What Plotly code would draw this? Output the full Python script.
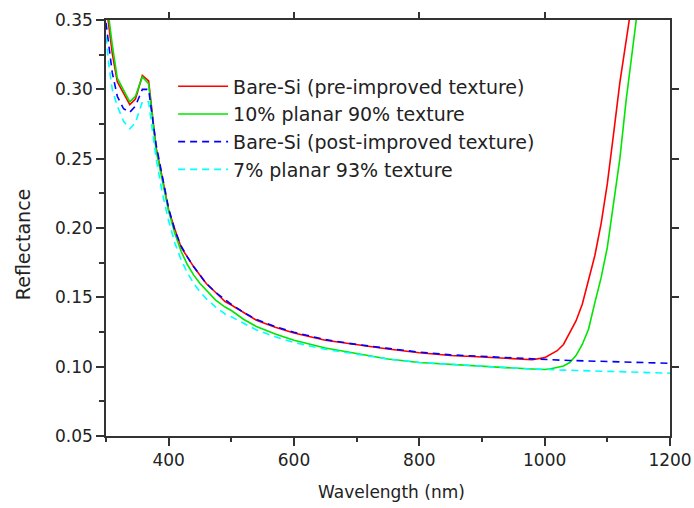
import plotly.graph_objects as go

# Wavelength sampling points (nm)
wavelength = [300, 305, 310, 318, 328, 338, 347, 358, 368, 380,
              390, 400, 410, 420, 430, 440, 450, 460, 475, 490,
              500, 520, 540, 570, 600, 650, 700, 750, 800, 850,
              900, 950, 980, 1000, 1010, 1020, 1030, 1040, 1050, 1060,
              1070, 1080, 1090, 1100, 1110, 1120, 1130, 1140, 1150, 1175,
              1200]

# Reflectance spectra
bare_si_pre = [0.362, 0.345, 0.326, 0.3055, 0.297, 0.289, 0.293, 0.310, 0.306, 0.258,
               0.236, 0.213, 0.199, 0.186, 0.179, 0.172, 0.166, 0.160, 0.1535, 0.147,
               0.1445, 0.139, 0.1335, 0.1285, 0.1243, 0.119, 0.1156, 0.1127, 0.110, 0.108,
               0.107, 0.106, 0.105, 0.1065, 0.109, 0.1115, 0.116, 0.124, 0.133, 0.145,
               0.162, 0.180, 0.203, 0.232, 0.268, 0.305, 0.335, 0.365, None, None,
               None]

planar10_texture90 = [0.368, 0.350, 0.332, 0.308, 0.299, 0.291, 0.295, 0.309, 0.304, 0.256,
                      0.234, 0.212, 0.196, 0.183, 0.1735, 0.166, 0.160, 0.155, 0.148, 0.143,
                      0.1405, 0.134, 0.129, 0.1235, 0.119, 0.1135, 0.1093, 0.1055, 0.103, 0.1015,
                      0.1003, 0.099, 0.0983, 0.098, 0.0985, 0.0995, 0.1005, 0.103, 0.108, 0.116,
                      0.127, 0.146, 0.164, 0.186, 0.217, 0.250, 0.292, 0.328, 0.364, None,
                      None]

bare_si_post = [0.348, 0.328, 0.312, 0.295, 0.286, 0.2835, 0.288, 0.300, 0.300, 0.260,
                0.236, 0.214, 0.198, 0.187, 0.179, 0.172, 0.166, 0.160, 0.1535, 0.148,
                0.145, 0.139, 0.134, 0.129, 0.1248, 0.1195, 0.116, 0.1132, 0.1105, 0.1085,
                0.1073, 0.1062, 0.1057, 0.1052, 0.105, 0.1048, 0.1046, 0.1045, 0.1044, 0.1042,
                0.1041, 0.104, 0.1038, 0.1037, 0.1036, 0.1035, 0.1034, 0.1032, 0.1031, 0.1028,
                0.1024]

planar7_texture93 = [0.338, 0.316, 0.300, 0.288, 0.277, 0.2715, 0.276, 0.291, 0.291, 0.250,
                     0.225, 0.205, 0.189, 0.177, 0.1675, 0.160, 0.154, 0.149, 0.143, 0.138,
                     0.136, 0.131, 0.1265, 0.1215, 0.1175, 0.1125, 0.1088, 0.1055, 0.103, 0.1015,
                     0.1002, 0.099, 0.0983, 0.0978, 0.0977, 0.0976, 0.0975, 0.0974, 0.0972, 0.0971,
                     0.097, 0.0969, 0.0968, 0.0966, 0.0965, 0.0964, 0.0962, 0.0961, 0.096, 0.0957,
                     0.0953]

series = [
    ("Bare-Si (pre-improved texture)", bare_si_pre, "#ff0000", "solid"),
    ("10% planar 90% texture", planar10_texture90, "#00e600", "solid"),
    ("Bare-Si (post-improved texture)", bare_si_post, "#0000ff", "7px,5px"),
    ("7% planar 93% texture", planar7_texture93, "#00ffff", "7px,5px"),
]

FONT = "DejaVu Sans"
AXIS_COLOR = "#333333"
TEXT_COLOR = "#222222"

fig = go.Figure()
for i, (name, vals, color, dash) in enumerate(series):
    fig.add_trace(go.Scatter(
        x=wavelength, y=vals, name=name, mode="lines",
        line=dict(color=color, width=1.6, dash=dash),
        legendgroup=f"g{i}",
    ))

# empty trace that holds the top/right tick axes
fig.add_trace(go.Scatter(x=[], y=[], xaxis="x2", yaxis="y2",
                         showlegend=False, hoverinfo="skip"))

x_range = [300, 1200]
y_range = [0.05, 0.35]

fig.update_layout(
    width=694, height=508,
    margin=dict(l=106, r=24, t=20, b=72, autoexpand=False),
    paper_bgcolor="white", plot_bgcolor="white",
    font=dict(family=FONT, color=TEXT_COLOR, size=17),
    showlegend=True,
    legend=dict(
        x=0.119, y=0.886, xanchor="left", yanchor="top",
        bgcolor="rgba(0,0,0,0)", borderwidth=0,
        font=dict(family=FONT, size=19, color=TEXT_COLOR),
        itemwidth=50, tracegroupgap=0,
    ),
    xaxis=dict(
        range=x_range, tick0=400, dtick=200, automargin=False,
        ticks="outside", ticklen=8, tickwidth=1.5, tickcolor=AXIS_COLOR,
        minor=dict(dtick=100, ticks="outside", ticklen=4, tickwidth=1.5, tickcolor=AXIS_COLOR),
        showline=True, linecolor=AXIS_COLOR, linewidth=1.5, mirror=True,
        showgrid=False, zeroline=False,
        tickfont=dict(family=FONT, size=17, color=TEXT_COLOR),
    ),
    yaxis=dict(
        range=y_range, tick0=0.05, dtick=0.05, tickformat=".2f", automargin=False,
        ticks="outside", ticklen=8, tickwidth=1.5, tickcolor=AXIS_COLOR,
        minor=dict(dtick=0.025, ticks="outside", ticklen=5, tickwidth=1.5, tickcolor=AXIS_COLOR),
        showline=True, linecolor=AXIS_COLOR, linewidth=1.5, mirror=True,
        showgrid=False, zeroline=False,
        tickfont=dict(family=FONT, size=17, color=TEXT_COLOR),
    ),
    xaxis2=dict(
        range=x_range, overlaying="x", side="top", anchor="y2", automargin=False,
        tickvals=[400, 600, 800, 1000], showticklabels=False,
        ticks="outside", ticklen=7, tickwidth=1.5, tickcolor=AXIS_COLOR,
        showline=False, showgrid=False, zeroline=False,
    ),
    yaxis2=dict(
        range=y_range, overlaying="y", side="right", anchor="x2", automargin=False,
        tickvals=[0.10, 0.15, 0.20, 0.25, 0.30], showticklabels=False,
        ticks="outside", ticklen=8, tickwidth=1.5, tickcolor=AXIS_COLOR,
        showline=False, showgrid=False, zeroline=False,
    ),
    annotations=[
        dict(text="Wavelength (nm)", xref="paper", yref="paper",
             x=0.507, y=-0.135, xanchor="center", yanchor="middle",
             showarrow=False, font=dict(family=FONT, size=17, color=TEXT_COLOR)),
        dict(text="Reflectance", xref="paper", yref="paper",
             x=-0.147, y=0.459, xanchor="center", yanchor="middle",
             textangle=-90, showarrow=False,
             font=dict(family=FONT, size=19, color=TEXT_COLOR)),
    ],
)

fig.write_html("out.html")
